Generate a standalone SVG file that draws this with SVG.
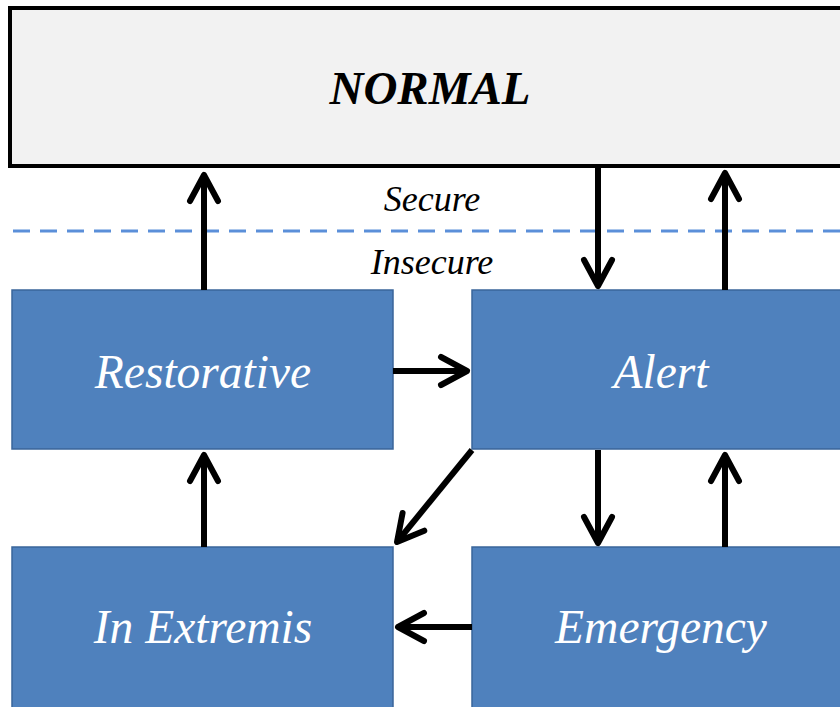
<svg xmlns="http://www.w3.org/2000/svg" width="840" height="707" viewBox="0 0 840 707">
<style>
.box{fill:#4f81bd;stroke:#3a659a;stroke-width:1.5}
.lbl{font-family:'Liberation Serif',serif;font-style:italic;font-size:47.5px;fill:#ffffff;text-anchor:middle}
.zone{font-family:'Liberation Serif',serif;font-style:italic;font-size:36px;fill:#000;text-anchor:middle}
.title{font-family:'Liberation Serif',serif;font-style:italic;font-weight:bold;font-size:47px;fill:#000;text-anchor:middle}
.conn{stroke:#000;stroke-width:6;fill:none;marker-end:url(#ah)}
</style>
<defs>
<marker id="ah" markerUnits="userSpaceOnUse" viewBox="-32 -20 40 40" markerWidth="40" markerHeight="40" refX="0" refY="0" orient="auto">
<path d="M-26,-14 L0,0 L-26,14" fill="none" stroke="#000" stroke-width="6" stroke-linecap="round" stroke-linejoin="round"/>
</marker>
</defs>
<rect width="840" height="707" fill="#ffffff"/>
<g id="normal">
<rect x="10" y="8" width="846" height="158" fill="#f2f2f2" stroke="#000" stroke-width="4"/>
<text class="title" x="430" y="104">NORMAL</text>
</g>
<g id="boundary">
<line x1="13" y1="231" x2="840" y2="231" stroke="#5b8fd9" stroke-width="3" stroke-dasharray="17 10"/>
<text class="zone" x="432" y="211">Secure</text>
<text class="zone" x="432" y="274">Insecure</text>
</g>
<g id="restorative">
<rect class="box" x="12" y="290" width="381" height="159"/>
<text class="lbl" x="203" y="388">Restorative</text>
</g>
<g id="alert">
<rect class="box" x="472" y="290" width="381" height="159"/>
<text class="lbl" x="661" y="388">Alert</text>
</g>
<g id="inextremis">
<rect class="box" x="12" y="547" width="381" height="170"/>
<text class="lbl" x="203" y="643">In Extremis</text>
</g>
<g id="emergency">
<rect class="box" x="472" y="547" width="381" height="170"/>
<text class="lbl" x="661" y="643">Emergency</text>
</g>
<g id="connectors">
<path class="conn" d="M204,290 L204,175"/>
<path class="conn" d="M598,168 L598,286"/>
<path class="conn" d="M725,290 L725,173"/>
<path class="conn" d="M393,371 L467,371"/>
<path class="conn" d="M472,450 L397,542"/>
<path class="conn" d="M598,450 L598,543"/>
<path class="conn" d="M725,547 L725,455"/>
<path class="conn" d="M204,547 L204,455"/>
<path class="conn" d="M472,627 L398,627"/>
</g>
</svg>
